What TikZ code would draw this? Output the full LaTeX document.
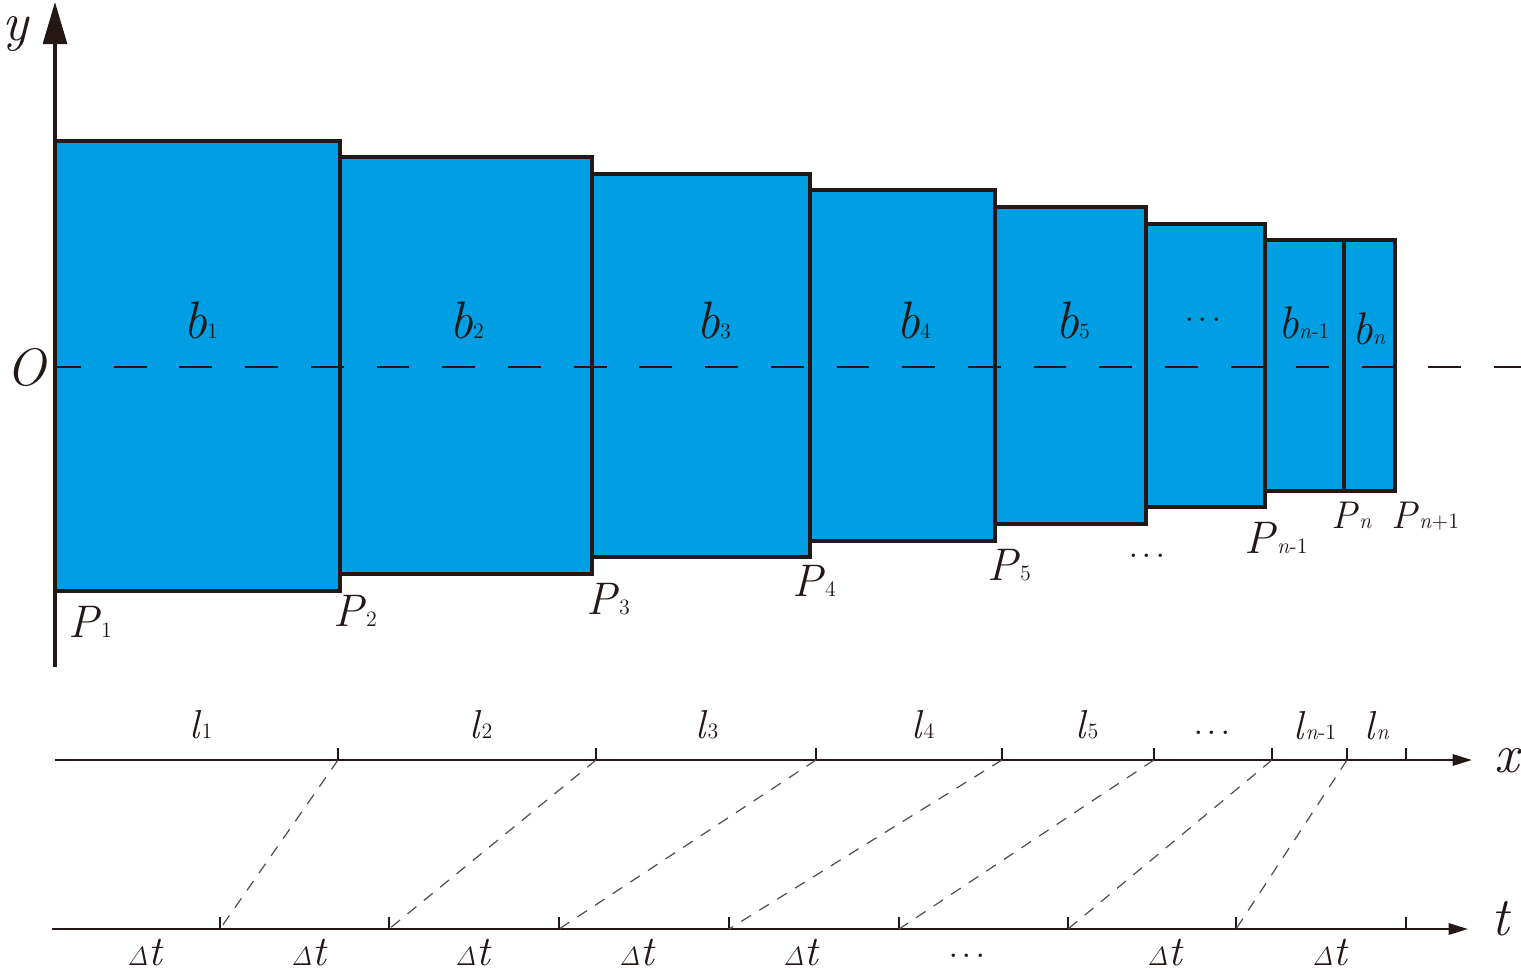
\RequirePackage{fix-cm}
\documentclass[tikz,border=0pt]{standalone}
\usetikzlibrary{arrows.meta}
\definecolor{ink}{RGB}{35,24,21}
\definecolor{barblue}{RGB}{0,158,226}
\definecolor{linkgray}{RGB}{80,80,80}
\newcommand\lbl[3]{\fontsize{#1}{#1}\selectfont\textit{#2}{\fontsize{12.5}{12.5}\selectfont #3}}
\newcommand\dlt{{\fontsize{15}{15}\selectfont$\mathit{\Delta}$}{\fontsize{24}{24}\selectfont\textit{t}}}
\newcommand\threedots{{\fontsize{24}{24}\selectfont .\kern1.6pt.\kern1.6pt.}}
\begin{document}
\begin{tikzpicture}[x=0.02cm,y=-0.02cm,
  bar/.style={draw=ink,fill=barblue,line width=2.3pt},
  axisline/.style={draw=ink,line width=2pt,-{Triangle[length=24pt,width=13.6pt]}},
  haxis/.style={draw=ink,line width=1.3pt,-{Triangle[length=11pt,width=6.4pt]}},
  tickmark/.style={draw=ink,line width=1pt},
  link/.style={draw=linkgray,line width=0.7pt,dash pattern=on 6.5pt off 5.5pt},
  midline/.style={draw=ink,line width=0.9pt,dash pattern=on 18.7pt off 18.7pt,dash phase=4pt},
  lab/.style={inner sep=0pt,anchor=base west,text=ink},
  dots/.style={inner sep=0pt,anchor=base,text=ink}]
\useasboundingbox (0,0) rectangle (1521,967);
% bars
\foreach \a/\b/\c/\d in {55/141/340/591, 340/157/592/574, 592/174/810/557, 810/190/995/541, 995/207/1146/524, 1146/224/1265/507, 1265/240/1344/491, 1344/240/1395/491}
  \draw[bar] (\a,\b) rectangle (\c,\d);
% centre line
\draw[midline] (55,367) -- (1521,367);
% y axis
\coordinate (ybot) at (55,667);
\coordinate (ytop) at (55,2);
\draw[axisline] (ybot) -- (ytop);
% labels in bars
\node[lab] (b1) at (183,338) {\lbl{30}{b}{1}};
\node[lab] (b2) at (449,338) {\lbl{30}{b}{2}};
\node[lab] (b3) at (696,338) {\lbl{30}{b}{3}};
\node[lab] (b4) at (896,338) {\lbl{30}{b}{4}};
\node[lab] (b5) at (1055,338) {\lbl{30}{b}{5}};
\node[dots] (bdots) at (1203,321) {\threedots};
\node[lab] (bn1) at (1278,338) {\lbl{26}{b}{\textit{n}-1}};
\node[lab] (bn) at (1352,344) {\lbl{26}{b}{\textit{n}}};
% axis letters
\node[lab] (ylab) at (2,40) {\fontsize{31}{31}\selectfont\textit{y}};
\node[lab] (olab) at (6,385) {\fontsize{30}{30}\selectfont\textit{O}};
% P labels
\node[lab] (P1) at (68,637) {\lbl{26}{P}{1}};
\node[lab] (P2) at (333,626) {\lbl{26}{P}{2}};
\node[lab] (P3) at (586,614) {\lbl{26}{P}{3}};
\node[lab] (P4) at (792,596) {\lbl{26}{P}{4}};
\node[lab] (P5) at (987,580) {\lbl{26}{P}{5}};
\node[dots] (pdots) at (1147,557) {\threedots};
\node[lab] (Pn1) at (1244,553) {\lbl{26}{P}{\textit{n}-1}};
\node[lab] (Pn) at (1331,528) {\lbl{22}{P}{\textit{n}}};
\node[lab] (Pnp) at (1391,528) {\lbl{22}{P}{\textit{n}+1}};
% x axis
\coordinate (xstart) at (55,760);
\coordinate (xend) at (1472,760);
\draw[haxis] (xstart) -- (xend);
\node[lab] (xlab) at (1494,772) {\fontsize{31}{31}\selectfont\textit{x}};
% t axis
\coordinate (tstart) at (52,929);
\coordinate (tend) at (1468,929);
\draw[haxis] (tstart) -- (tend);
\node[lab] (tlab) at (1491,935) {\fontsize{31}{31}\selectfont\textit{t}};
% ticks on x axis
\foreach \i/\x in {1/338,2/596,3/816,4/1002,5/1154,6/1272,7/1347,8/1406} {
  \coordinate (x\i) at (\x,760);
  \draw[tickmark] (x\i) -- ++(0,-12);
}
% ticks on t axis
\foreach \i/\x in {1/220,2/389,3/559,4/729,5/899,6/1068,7/1236,8/1406} {
  \coordinate (t\i) at (\x,929);
  \draw[tickmark] (t\i) -- ++(0,-12);
}
% dashed connectors
\foreach \i in {1,...,7}
  \draw[link] (x\i) -- (t\i);
% l labels
\node[lab] (l1) at (189,738) {\lbl{23}{l}{1}};
\node[lab] (l2) at (469,738) {\lbl{23}{l}{2}};
\node[lab] (l3) at (695,738) {\lbl{23}{l}{3}};
\node[lab] (l4) at (911,738) {\lbl{23}{l}{4}};
\node[lab] (l5) at (1075,738) {\lbl{23}{l}{5}};
\node[dots] (ldots) at (1212,734) {\threedots};
\node[lab] (ln1) at (1293,739) {\lbl{23}{l}{\textit{n}-1}};
\node[lab] (ln) at (1364,739) {\lbl{23}{l}{\textit{n}}};
% delta t labels
\node[lab] (d1) at (127,965) {\dlt};
\node[lab] (d2) at (291,965) {\dlt};
\node[lab] (d3) at (455,965) {\dlt};
\node[lab] (d4) at (619,965) {\dlt};
\node[lab] (d5) at (783,965) {\dlt};
\node[dots] (ddots) at (967,957) {\threedots};
\node[lab] (d6) at (1147,965) {\dlt};
\node[lab] (d7) at (1312,965) {\dlt};
\end{tikzpicture}
\end{document}
